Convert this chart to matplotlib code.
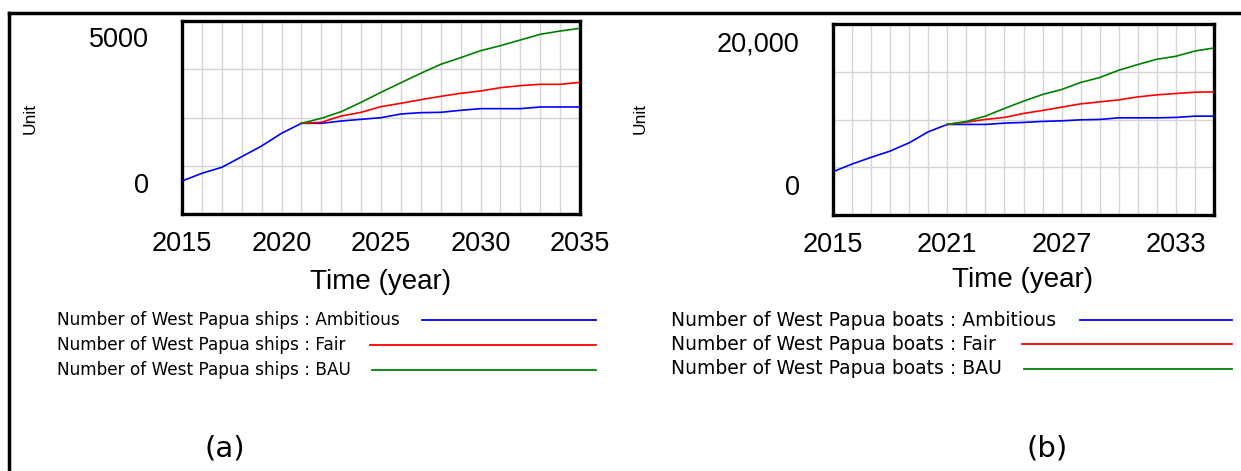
import numpy as np
import matplotlib.pyplot as plt
from matplotlib.lines import Line2D
from matplotlib.ticker import MultipleLocator, FixedLocator

# ====================================================================
# Data
# ====================================================================

years = np.arange(2015, 2036)
years_post = np.arange(2021, 2036)

ships_ambitious = [68, 332, 537, 900, 1267, 1701, 2044, 2044, 2123, 2180, 2237,
                   2363, 2409, 2420, 2489, 2546, 2546, 2546, 2603, 2603, 2603]
ships_fair = [2044, 2078, 2295, 2420, 2614, 2729, 2854, 2968, 3071, 3151,
              3264, 3333, 3379, 3379, 3448]
ships_bau = [2044, 2215, 2443, 2763, 3105, 3434, 3756, 4064, 4291, 4531,
             4702, 4897, 5092, 5205, 5297]

boats_ambitious = [1856, 2931, 3866, 4745, 5904, 7439, 8472, 8472, 8472, 8653, 8751,
                   8891, 8974, 9114, 9170, 9393, 9393, 9393, 9449, 9630, 9630]
boats_fair = [8472, 8793, 9170, 9449, 10007, 10426, 10886, 11347, 11626, 11905,
              12324, 12603, 12798, 12980, 13022]
boats_bau = [8472, 8891, 9630, 10705, 11724, 12659, 13357, 14334, 15032, 16050,
             16846, 17585, 18004, 18744, 19163]

ships_yticks = [0, 5000]
ships_ylabels = ['0', '5000']
ships_xticks = [2015, 2020, 2025, 2030, 2035]

boats_yticks = [0, 20000]
boats_ylabels = ['0', '20,000']
boats_xticks = [2015, 2021, 2027, 2033]

scenarios = ['Ambitious', 'Fair', 'BAU']
colors = ['#0000ff', '#ff0000', '#008000']

W, H = 1241, 471
fig = plt.figure(figsize=(W / 100, H / 100), dpi=100)
big = 'Liberation Sans'


def px(x, y):
    return x / W, 1 - y / H


def panel(rect, ylim, yticks, ylabels, xticks, amb, fair, bau, ypad):
    ax = fig.add_axes(rect)
    ax.plot(years, amb, color=colors[0], lw=1.2, zorder=3)
    ax.plot(years_post, fair, color=colors[1], lw=1.2, zorder=3)
    ax.plot(years_post, bau, color=colors[2], lw=1.2, zorder=3)
    ax.set_xlim(2015, 2035)
    ax.set_ylim(*ylim)
    ax.set_xticks(xticks)
    ax.set_xticklabels([str(x) for x in xticks], fontsize=19.5, family=big)
    ax.xaxis.set_minor_locator(MultipleLocator(1))
    ax.set_yticks(yticks)
    ax.set_yticklabels(ylabels, fontsize=19.5, family=big)
    step = (ylim[1] - ylim[0]) / 4
    ax.yaxis.set_minor_locator(FixedLocator([ylim[0] + k * step for k in (1, 2, 3)]))
    ax.tick_params(which='both', length=0)
    ax.tick_params(axis='x', pad=12)
    ax.tick_params(axis='y', pad=ypad)
    ax.grid(False)
    ax.grid(True, which='minor', color='#d4d4d4', lw=1.0)
    ax.xaxis.grid(True, which='major', color='#d4d4d4', lw=1.0)
    for s in ax.spines.values():
        s.set_linewidth(2.4)
        s.set_color('black')
    return ax


ax1 = panel([182 / W, 1 - 214 / H, 398 / W, 193 / H], (-1062, 5548),
            ships_yticks, ships_ylabels, ships_xticks,
            ships_ambitious, ships_fair, ships_bau, 24)
ax2 = panel([833 / W, 1 - 215 / H, 381 / W, 191 / H], (-4196, 22517),
            boats_yticks, boats_ylabels, boats_xticks,
            boats_ambitious, boats_fair, boats_bau, 24)

# axis titles
fig.text(*px(381, 282), 'Time (year)', fontsize=20, family=big, ha='center', va='center')
fig.text(*px(1023, 280), 'Time (year)', fontsize=20, family=big, ha='center', va='center')
fig.text(*px(30, 118), 'Unit', fontsize=12.5, family=big, rotation=90, ha='center', va='center')
fig.text(*px(640, 118), 'Unit', fontsize=12.5, family=big, rotation=90, ha='center', va='center')

# legends (Vensim style: text then line sample)
left_lines = [(422, 320), (370, 345), (372, 370)]
right_lines = [(1080, 320), (1022, 344), (1024, 369)]
for i, sc in enumerate(scenarios):
    x0, y = left_lines[i]
    fig.text(*px(57, y), f'Number of West Papua ships : {sc}', fontsize=12.2,
             family='DejaVu Sans', ha='left', va='center')
    fig.add_artist(Line2D([x0 / W, 596 / W], [1 - y / H] * 2, color=colors[i], lw=1.3))
    x0, y = right_lines[i]
    fig.text(*px(671, y), f'Number of West Papua boats : {sc}', fontsize=13.5,
             family='DejaVu Sans', ha='left', va='center')
    fig.add_artist(Line2D([x0 / W, 1232 / W], [1 - y / H] * 2, color=colors[i], lw=1.3))

# panel captions
fig.text(*px(225, 448), '(a)', fontsize=21, ha='center', va='center')
fig.text(*px(1047, 448), '(b)', fontsize=21, ha='center', va='center')

# outer frame (top and left edges only)
fig.add_artist(Line2D([9 / W, 1], [1 - 13 / H] * 2, color='black', lw=2.5))
fig.add_artist(Line2D([9 / W, 9 / W], [1 - 13 / H, 0], color='black', lw=2.5))

fig.savefig('out.png', dpi=100)
